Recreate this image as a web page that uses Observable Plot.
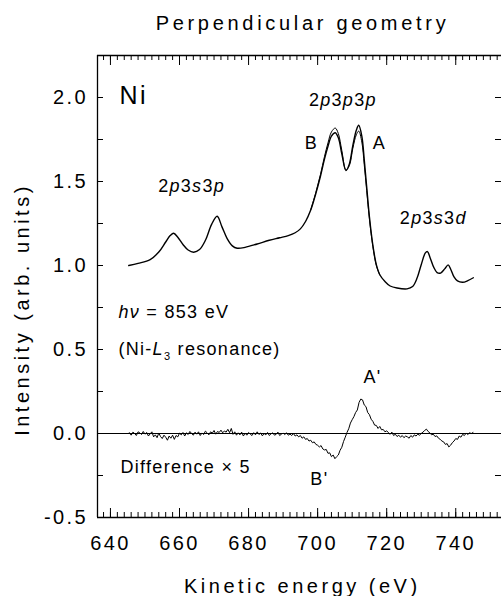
<!DOCTYPE html>
<html><head><meta charset="utf-8">
<script src="https://cdn.jsdelivr.net/npm/d3@7"></script>
<script src="https://cdn.jsdelivr.net/npm/@observablehq/plot@0.6"></script>
<style>body{margin:0;background:#fff}svg{display:block;font-family:'Liberation Sans',Arial,Helvetica,sans-serif;color:#000}</style>
</head><body><div id="chart"></div>
<script>
// ---- data ----
const specE = [645.3,648,651.5,654,656,657.3,658.3,659.5,661,662.5,
  664.1,665.8,667.5,669.3,670.9,672.3,673.8,675.3,676.7,679,
  682.5,686,689,691.5,693.5,695,696.5,698,699.5,700.8,
  702,703,704,705.1,706,707,708.2,709.2,710.2,711.2,
  711.9,712.8,713.5,714.2,715,716,717,718,719.5,721,
  723,725.9,727.5,728.8,730,731.2,731.8,732.6,733.6,734.6,
  735.6,736.8,737.8,738.6,739.5,740.5,742,743.5,745.1];
const specI = [1.0,1.013,1.035,1.08,1.14,1.178,1.192,1.168,1.125,1.092,
  1.079,1.095,1.15,1.245,1.293,1.23,1.16,1.117,1.103,1.108,
  1.128,1.15,1.165,1.178,1.195,1.218,1.262,1.33,1.43,1.53,
  1.635,1.71,1.77,1.79,1.76,1.665,1.565,1.605,1.715,1.805,
  1.835,1.77,1.63,1.47,1.29,1.12,1.005,0.945,0.905,0.878,
  0.866,0.861,0.875,0.925,1.005,1.075,1.083,1.045,0.99,0.958,
  0.955,0.98,1.004,0.975,0.932,0.908,0.9,0.91,0.927];
const spec2E = [698,699.5,700.8,702,703,704,705.1,706,707,708.2,709.2,710.2,711.2,711.9,712.8,713.5,714.2,715,716,717,718];
const spec2I = [1.332,1.436,1.54,1.65,1.73,1.795,1.818,1.785,1.685,1.568,1.595,1.698,1.778,1.80,1.735,1.60,1.447,1.275,1.112,1.0,0.944];
const diffStart = 645.5, diffStep = 0.5;
const diffVals = [
  0.005,-0.01,0.008,0.0,-0.012,0.01,0.004,-0.006,0.012,-0.004,0.006,-0.015,-0.002,0.01,-0.02,-0.008,-0.025,0.003,-0.018,-0.03,-0.01,-0.022,-0.04,-0.015,-0.028,-0.01,-0.035,-0.012,-0.02,0.002,
  -0.008,0.006,-0.015,0.004,-0.006,0.012,0.0,-0.01,0.008,-0.004,0.01,-0.012,0.003,-0.006,0.014,0.004,-0.008,0.01,0.002,0.018,-0.004,0.012,0.006,0.02,0.004,0.015,0.008,0.025,0.005,0.03,
  -0.005,0.01,-0.01,0.004,-0.008,0.008,-0.015,0.002,-0.01,0.006,-0.004,-0.012,0.005,-0.008,0.01,-0.006,0.003,-0.014,0.0,-0.008,0.006,-0.012,-0.002,0.004,-0.01,-0.005,0.008,-0.012,-0.004,0.002,
  -0.006,0.004,-0.01,-0.003,-0.012,0.0,-0.015,-0.008,-0.02,-0.012,-0.028,-0.02,-0.035,-0.03,-0.045,-0.04,-0.055,-0.05,-0.065,-0.07,
  -0.08,-0.072,-0.092,-0.098,-0.095,-0.118,-0.115,-0.138,-0.128,-0.15,-0.138,-0.128,-0.1,-0.082,-0.048,-0.022,0.006,0.028,0.062,0.082,
  0.1,0.125,0.14,0.185,0.205,0.2,0.17,0.16,0.125,0.112,0.085,0.072,0.05,0.048,0.03,0.042,0.022,0.024,0.01,0.016,
  0.005,-0.005,0.008,-0.012,-0.004,-0.018,-0.01,-0.022,-0.012,-0.025,-0.015,-0.02,-0.028,-0.012,-0.022,-0.008,-0.015,-0.004,-0.01,0.0,0.008,0.018,0.026,0.012,0.004,-0.008,-0.004,-0.018,-0.014,-0.028,
  -0.035,-0.045,-0.05,-0.065,-0.06,-0.08,-0.07,-0.055,-0.045,-0.03,-0.035,-0.015,-0.022,-0.005,-0.012,0.002,-0.006,0.004,0.0,0.006];
const xTickValues = [640,660,680,700,720,740];
const yTickValues = [-0.5,0,0.5,1.0,1.5,2.0];
const titleText = "Perpendicular geometry";
const xLabel = "Kinetic energy (eV)";
const yLabel = "Intensity (arb. units)";
// annotation texts (markup: *italic*, _{subscript})
const labelsMiddle = [
  {t:"2*p*3*p*3*p*", E:707.3, v:1.952},
  {t:"B", E:698.2, v:1.696},
  {t:"A", E:717.9, v:1.696},
  {t:"2*p*3*s*3*p*", E:663.5, v:1.435},
  {t:"2*p*3*s*3*d*", E:733.5, v:1.25},
  {t:"A'", E:715.9, v:0.298},
  {t:"B'", E:700.5, v:-0.304}
];
const labelsStart = [
  {t:"*hν* = 853 eV", E:642.3, v:0.685},
  {t:"(Ni-*L*_{3} resonance)", E:642.3, v:0.47},
  {t:"Difference × 5", E:642.9, v:-0.238}
];
const sampleName = [{t:"Ni", E:642.6, v:1.964}];

// ---- tables ----
const main = specE.map((E,i)=>({E, I:specI[i]}));
const thin = spec2E.map((E,i)=>({E, I:spec2I[i]}));
const diff = diffVals.map((D,i)=>({E: diffStart + i*diffStep, D}));

const W=501, H=596, mt=55, mb=79, ml=97, mr=0;
const plotH = H-mt-mb, plotW = W-ml-mr;
const xDomain = [636.25, 753.25], yDomain = [-0.5, 2.25];
const xMinor = d3.range(638, 753, 2);
const yAll = d3.range(-0.25, 2.01, 0.25);

const plot = Plot.plot({
  width: W, height: H, marginTop: mt, marginBottom: mb, marginLeft: ml, marginRight: mr,
  x: {domain: xDomain}, y: {domain: yDomain},
  marks: [
    Plot.ruleY([0], {stroke: "black", strokeWidth: 1.2}),
    Plot.line(diff, {x:"E", y:"D", stroke:"black", strokeWidth: 1}),
    Plot.line(thin, {x:"E", y:"I", stroke:"black", strokeWidth: 1, curve:"catmull-rom"}),
    Plot.line(main, {x:"E", y:"I", stroke:"black", strokeWidth: 1.4, curve:"catmull-rom"}),
    // frame (left, top, bottom)
    Plot.ruleY(yDomain, {stroke:"black", strokeWidth: 1.3}),
    Plot.ruleX([xDomain[0]], {stroke:"black", strokeWidth: 1.3}),
    // inward ticks
    Plot.tickX(xMinor, {x: d=>d, insetTop: plotH-5, stroke:"black"}),
    Plot.tickX(xTickValues, {x: d=>d, insetTop: plotH-9, stroke:"black"}),
    Plot.tickX(xMinor, {x: d=>d, insetBottom: plotH-5, stroke:"black"}),
    Plot.tickX(xTickValues, {x: d=>d, insetBottom: plotH-10, stroke:"black"}),
    Plot.tickY(yAll, {y: d=>d, insetRight: plotW-6, stroke:"black"}),
    Plot.tickY(yAll, {y: d=>d, insetLeft: plotW-6, stroke:"black"}),
    Plot.axisX(xTickValues, {tickSize: 0, tickPadding: 18, fontSize: 20, tickFormat: d=>String(d), label: null}),
    Plot.axisY(yTickValues, {tickSize: 0, tickPadding: 9.5, fontSize: 20, tickFormat: d=>d.toFixed(1), label: null}),
    Plot.text([titleText], {text: d=>d, frameAnchor:"top", dx: 3, dy: -26, lineAnchor:"bottom", fontSize: 20}),
    Plot.text([xLabel], {text: d=>d, frameAnchor:"bottom", dx: 2.8, dy: 75, lineAnchor:"bottom", fontSize: 20}),
    Plot.text([yLabel], {text: d=>d, frameAnchor:"left", dx: -75, dy: 23, rotate: -90, lineAnchor:"middle", textAnchor:"middle", fontSize: 20}),
    Plot.text(labelsMiddle, {x:"E", y:"v", text:"t", textAnchor:"middle", lineAnchor:"bottom", fontSize: 18}),
    Plot.text(labelsStart, {x:"E", y:"v", text:"t", textAnchor:"start", lineAnchor:"bottom", fontSize: 18}),
    Plot.text(sampleName, {x:"E", y:"v", text:"t", textAnchor:"start", lineAnchor:"bottom", fontSize: 25})
  ]
});

// letter spacing & rich text
const spacing = {[titleText]: 3.7, [xLabel]: 3.5, [yLabel]: 3.5, "Ni": 2.5};
plot.querySelectorAll("text").forEach(t => {
  const s = t.textContent;
  const inAxis = t.closest('[aria-label$="tick label"]');
  const ls = spacing[s] != null ? spacing[s] : (inAxis ? 2.4 : 1.3);
  t.setAttribute("letter-spacing", ls);
  if (!/[*_]/.test(s)) return;
  const tokens = s.split(/(\*[^*]+\*|_\{[^}]+\})/).filter(x => x);
  t.textContent = "";
  let sub = false;
  tokens.forEach(tok => {
    const ts = document.createElementNS("http://www.w3.org/2000/svg", "tspan");
    if (tok.startsWith("*")) { ts.textContent = tok.slice(1,-1); ts.setAttribute("font-style","italic"); if (sub) { ts.setAttribute("dy","-5"); sub=false; } }
    else if (tok.startsWith("_{")) { ts.textContent = tok.slice(2,-1); ts.setAttribute("font-size","11"); ts.setAttribute("dy","5"); sub = true; }
    else { ts.textContent = tok; if (sub) { ts.setAttribute("dy","-5"); sub=false; } }
    t.appendChild(ts);
  });
});
document.getElementById("chart").appendChild(plot);
</script>
</body></html>
